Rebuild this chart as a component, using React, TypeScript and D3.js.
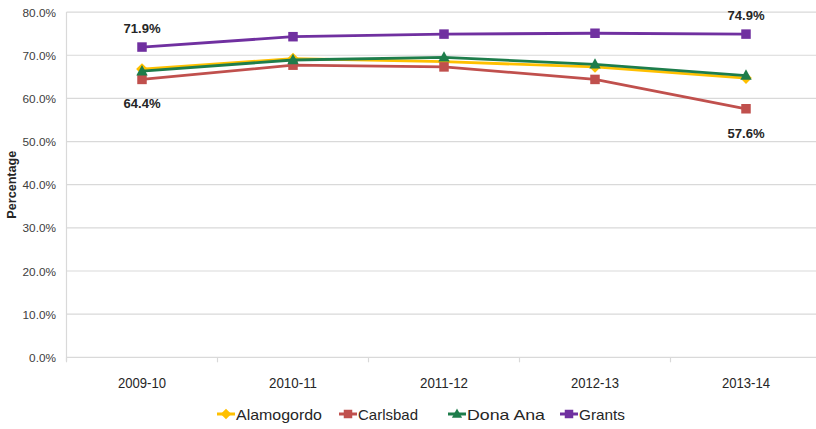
import React from "react";
import * as d3 from "d3";

const categories = ["2009-10", "2010-11", "2011-12", "2012-13", "2013-14"];
const alamogordo = [66.8, 69.2, 68.5, 67.3, 64.7];
const carlsbad = [64.4, 67.7, 67.3, 64.4, 57.6];
const donaAna = [66.3, 68.9, 69.5, 67.9, 65.3];
const grants = [71.9, 74.3, 74.9, 75.1, 74.9];
const yTicks = [0, 10, 20, 30, 40, 50, 60, 70, 80];

const seriesNames = ["Alamogordo", "Carlsbad", "Dona Ana", "Grants"];
const seriesValues = [alamogordo, carlsbad, donaAna, grants];
const seriesColors = ["#FFC000", "#C0504D", "#1E7D4B", "#7030A0"];
const seriesMarkers = ["diamond", "square", "triangle", "square"];

const dataLabels = [
  { s: 3, i: 0, text: "71.9%", pos: "above" },
  { s: 1, i: 0, text: "64.4%", pos: "below" },
  { s: 3, i: 4, text: "74.9%", pos: "above" },
  { s: 1, i: 4, text: "57.6%", pos: "below" },
];

const FONT = "'Liberation Sans', Arial, sans-serif";

function Marker({ type, x, y, color, size }: any) {
  if (type === "square") {
    return <rect x={x - size / 2} y={y - size / 2} width={size} height={size} fill={color} />;
  }
  if (type === "triangle") {
    const h = size * 1.05;
    return (
      <path
        d={`M${x},${y - h * 0.62}L${x + size * 0.6},${y + h * 0.42}L${x - size * 0.6},${y + h * 0.42}Z`}
        fill={color}
      />
    );
  }
  const r = size * 0.62;
  return <path d={`M${x},${y - r}L${x + r},${y}L${x},${y + r}L${x - r},${y}Z`} fill={color} />;
}

export default function App() {
  const width = 816;
  const height = 429;
  const left = 66.5;
  const band = 151;
  const x = d3
    .scaleBand<string>()
    .domain(categories)
    .range([left, left + band * categories.length])
    .paddingInner(0)
    .paddingOuter(0);
  const y = d3.scaleLinear().domain([0, 80]).range([357.3, 12.1]);
  const cx = (c: string) => (x(c) as number) + x.bandwidth() / 2;
  const line = d3
    .line<number>()
    .x((_, i) => cx(categories[i]))
    .y((v) => y(v));

  const legendItems = [
    { x: 217, tx: 236, w: 86 },
    { x: 339, tx: 358, w: 60 },
    { x: 448, tx: 467, w: 78 },
    { x: 560, tx: 579, w: 46 },
  ];

  return (
    <svg
      width={width}
      height={height}
      style={{ position: "absolute", left: 0, top: 0, background: "#fff" }}
      fontFamily={FONT}
    >
      {yTicks.map((t) => (
        <g key={t}>
          <line x1={left} x2={width} y1={y(t)} y2={y(t)} stroke="#D9D9D9" strokeWidth={1.2} />
          <text x={56} y={y(t) + 4.5} textAnchor="end" fontSize={11.8} fill="#404040">
            {t.toFixed(1)}%
          </text>
        </g>
      ))}
      <line x1={left} x2={left} y1={y(80)} y2={y(0) + 4} stroke="#D9D9D9" strokeWidth={1.2} />
      {categories.map((c, i) => (
        <line
          key={"tk" + i}
          x1={x(c) as number}
          x2={x(c) as number}
          y1={y(0)}
          y2={y(0) + 5}
          stroke="#D9D9D9"
          strokeWidth={1.2}
        />
      ))}
      {categories.map((c) => (
        <text
          key={c}
          x={cx(c)}
          y={388}
          textAnchor="middle"
          fontSize={14}
          fill="#262626"
          textLength={48}
          lengthAdjust="spacingAndGlyphs"
        >
          {c}
        </text>
      ))}
      <text
        transform={`translate(16,${y(40)}) rotate(-90)`}
        textAnchor="middle"
        fontSize={12.5}
        fontWeight="bold"
        fill="#262626"
        textLength={68}
        lengthAdjust="spacingAndGlyphs"
      >
        Percentage
      </text>
      {seriesValues.map((vals, s) => (
        <g key={seriesNames[s]}>
          <path d={line(vals) as string} fill="none" stroke={seriesColors[s]} strokeWidth={2.8} />
          {vals.map((v, i) => (
            <Marker
              key={i}
              type={seriesMarkers[s]}
              x={cx(categories[i])}
              y={y(v)}
              color={seriesColors[s]}
              size={9.5}
            />
          ))}
        </g>
      ))}
      {dataLabels.map((d, k) => (
        <text
          key={k}
          x={cx(categories[d.i])}
          y={y(seriesValues[d.s][d.i]) + (d.pos === "above" ? -14 : 29)}
          textAnchor="middle"
          fontSize={13.5}
          fontWeight="bold"
          fill="#262626"
          textLength={37}
          lengthAdjust="spacingAndGlyphs"
        >
          {d.text}
        </text>
      ))}
      {seriesNames.map((n, s) => (
        <g key={"lg" + s}>
          <line
            x1={legendItems[s].x}
            x2={legendItems[s].x + 18}
            y1={414}
            y2={414}
            stroke={seriesColors[s]}
            strokeWidth={3}
          />
          <Marker
            type={seriesMarkers[s]}
            x={legendItems[s].x + 9}
            y={414}
            color={seriesColors[s]}
            size={8.5}
          />
          <text
            x={legendItems[s].tx}
            y={419.5}
            fontSize={15}
            fill="#262626"
            textLength={legendItems[s].w}
            lengthAdjust="spacingAndGlyphs"
          >
            {n}
          </text>
        </g>
      ))}
    </svg>
  );
}
